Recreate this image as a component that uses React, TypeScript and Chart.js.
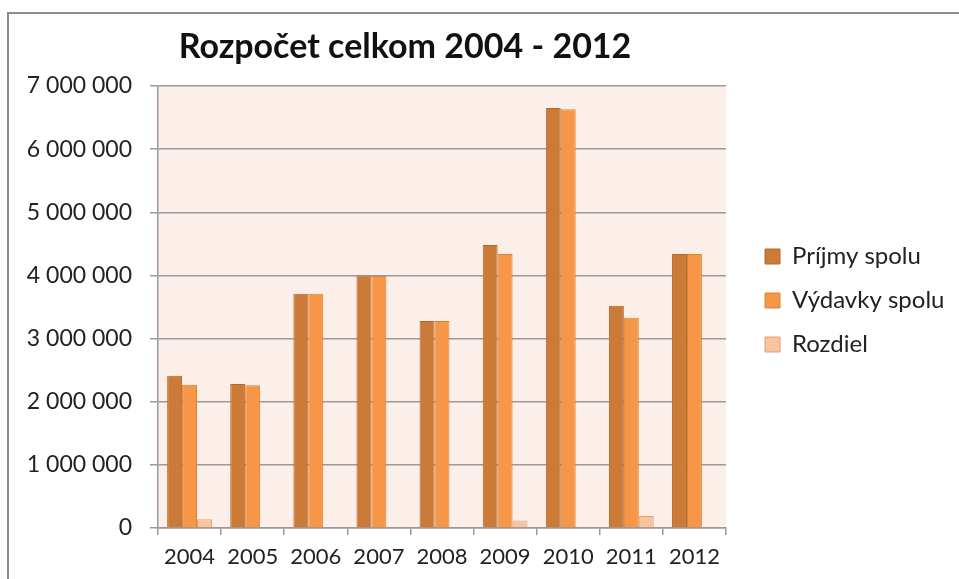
import React, { useEffect, useRef } from "react";
import { Chart, registerables } from "chart.js";

Chart.register(...registerables);

const categories = ["2004", "2005", "2006", "2007", "2008", "2009", "2010", "2011", "2012"];
const prijmy = [2410000, 2280000, 3710000, 4000000, 3280000, 4480000, 6650000, 3520000, 4340000];
const vydavky = [2270000, 2260000, 3710000, 3990000, 3280000, 4340000, 6630000, 3330000, 4340000];
const rozdiel = [140000, 10000, 0, 15000, 0, 120000, 20000, 190000, 8000];
const seriesNames = ["Príjmy spolu", "Výdavky spolu", "Rozdiel"];
const yTicks = [0, 1000000, 2000000, 3000000, 4000000, 5000000, 6000000, 7000000];
const titleText = "Rozpočet celkom 2004 - 2012";

const FONT = "Lato, 'DejaVu Sans', sans-serif";

const fmt = (v: number) => String(Math.round(v)).replace(/\B(?=(\d{3})+(?!\d))/g, " ");

const plotBg = {
  id: "plotBg",
  beforeDraw(chart: any) {
    const { ctx, chartArea } = chart;
    if (!chartArea) return;
    ctx.save();
    ctx.fillStyle = "#FCEEE8";
    ctx.fillRect(chartArea.left, chartArea.top, chartArea.right - chartArea.left, chartArea.bottom - chartArea.top);
    ctx.restore();
  },
};

const layoutTweak = {
  id: "layoutTweak",
  beforeInit(chart: any) {
    const legend = chart.legend;
    if (legend) {
      const orig = legend.fit;
      legend.fit = function () {
        orig.call(this);
        this.width = 959 - 726;
      };
    }
  },
  afterLayout(chart: any) {
    const t = chart.titleBlock;
    if (t) {
      t.left = 0;
      t.right = 810;
      t.width = 810;
    }
    const l = chart.legend;
    if (l) {
      l.left += 19;
      l.top += 11;
      l.bottom += 11;
    }
  },
};

function ChartView() {
  const ref = useRef<HTMLCanvasElement | null>(null);
  useEffect(() => {
    if (!ref.current) return;
    const chart = new Chart(ref.current, {
      type: "bar",
      data: {
        labels: categories,
        datasets: [
          {
            label: seriesNames[0],
            data: prijmy,
            backgroundColor: "#CC7A37",
            borderColor: "#B5682A",
            borderWidth: 1,
            categoryPercentage: 0.71,
            barPercentage: 1.0,
          },
          {
            label: seriesNames[1],
            data: vydavky,
            backgroundColor: "#F79646",
            borderColor: "#DC8234",
            borderWidth: 1,
            categoryPercentage: 0.71,
            barPercentage: 1.0,
          },
          {
            label: seriesNames[2],
            data: rozdiel,
            backgroundColor: "#FAC39D",
            borderColor: "#E0A079",
            borderWidth: 1,
            categoryPercentage: 0.71,
            barPercentage: 1.0,
          },
        ],
      },
      options: {
        animation: false,
        responsive: false,
        maintainAspectRatio: false,
        devicePixelRatio: 1,
        layout: { padding: { left: 0, right: 0, top: 0, bottom: 0 } },
        plugins: {
          title: {
            display: true,
            text: titleText,
            color: "#111111",
            font: { family: FONT, size: 34, weight: "bold" },
            padding: { top: 27, bottom: 18.2 },
          },
          legend: {
            display: true,
            position: "right",
            align: "center",
            labels: {
              boxWidth: 15,
              boxHeight: 15,
              padding: 20,
              color: "#222222",
              font: { family: FONT, size: 24 },
            },
          },
          tooltip: { enabled: false },
        },
        scales: {
          x: {
            grid: {
              offset: true,
              drawOnChartArea: false,
              drawTicks: true,
              tickLength: 7,
              color: "#9a9a9a",
              lineWidth: 1.5,
            },
            border: { display: true, color: "#9a9a9a", width: 1.5 },
            ticks: {
              color: "#222222",
              font: { family: FONT, size: 22 },
              padding: 9,
              maxRotation: 0,
              autoSkip: false,
            },
            afterFit(scale: any) {
              scale.height = 579 - 528;
            },
          },
          y: {
            min: 0,
            max: 7000000,
            afterBuildTicks(scale: any) {
              scale.ticks = yTicks.map((v) => ({ value: v }));
            },
            grid: {
              color: "#9a9a9a",
              lineWidth: 1.5,
              drawTicks: true,
              tickLength: 8,
            },
            border: { display: true, color: "#9a9a9a", width: 1.5 },
            ticks: {
              color: "#222222",
              font: { family: FONT, size: 23 },
              padding: 18,
              callback: (v: any) => fmt(Number(v)),
            },
            afterFit(scale: any) {
              scale.width = 158;
            },
          },
        },
      },
      plugins: [plotBg, layoutTweak],
    } as any);
    return () => chart.destroy();
  }, []);
  return <canvas ref={ref} width={959} height={579} style={{ position: "absolute", left: 0, top: 0, width: 959, height: 579 }} />;
}

export default function App() {
  return (
    <div style={{ position: "fixed", left: 0, top: 0, width: 959, height: 579, background: "#ffffff", overflow: "hidden" }}>
      <div
        style={{
          position: "absolute",
          left: 7,
          top: 12,
          width: 959,
          height: 579,
          borderTop: "2px solid #8c8c8c",
          borderLeft: "2px solid #8c8c8c",
          boxSizing: "border-box",
        }}
      />
      <ChartView />
    </div>
  );
}
